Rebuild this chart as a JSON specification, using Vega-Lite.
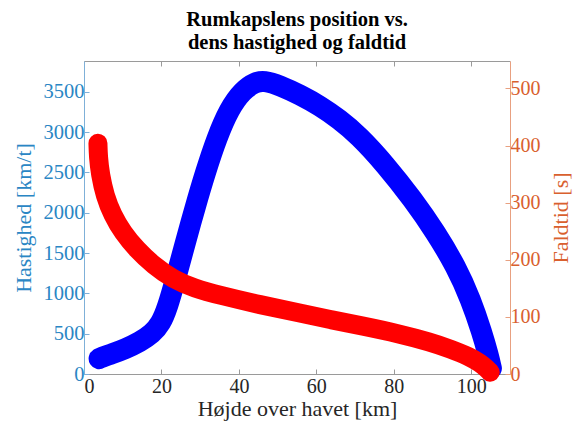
{
  "$schema": "https://vega.github.io/schema/vega-lite/v6.json",
  "width": 426,
  "height": 313,
  "autosize": {"type": "none"},
  "padding": {"left": 84, "top": 61, "right": 64, "bottom": 54},
  "background": "white",
  "config": {"view": {"stroke": null}, "font": "Liberation Serif"},
  "title": {
    "text": ["Rumkapslens position vs.", "dens hastighed og faldtid"],
    "font": "Liberation Serif",
    "fontSize": 20.5,
    "fontWeight": "bold",
    "color": "#000000",
    "anchor": "middle",
    "offset": 7,
    "lineHeight": 23
  },
  "datasets": {
    "hastighed": [
      {"hoejde": 3.9, "hastighed": 190},
      {"hoejde": 4.4, "hastighed": 205},
      {"hoejde": 7.2, "hastighed": 250},
      {"hoejde": 10.6, "hastighed": 310},
      {"hoejde": 14.5, "hastighed": 400},
      {"hoejde": 17.6, "hastighed": 500},
      {"hoejde": 19.8, "hastighed": 620},
      {"hoejde": 21.6, "hastighed": 830},
      {"hoejde": 23.6, "hastighed": 1170},
      {"hoejde": 26.0, "hastighed": 1600},
      {"hoejde": 28.7, "hastighed": 2070},
      {"hoejde": 31.4, "hastighed": 2510},
      {"hoejde": 34.3, "hastighed": 2930},
      {"hoejde": 37.5, "hastighed": 3290},
      {"hoejde": 41.0, "hastighed": 3520},
      {"hoejde": 44.2, "hastighed": 3620},
      {"hoejde": 46.5, "hastighed": 3640},
      {"hoejde": 50.6, "hastighed": 3580},
      {"hoejde": 55.8, "hastighed": 3462},
      {"hoejde": 61.0, "hastighed": 3325},
      {"hoejde": 65.9, "hastighed": 3160},
      {"hoejde": 70.8, "hastighed": 2965},
      {"hoejde": 77.8, "hastighed": 2600},
      {"hoejde": 85.0, "hastighed": 2160},
      {"hoejde": 90.7, "hastighed": 1765},
      {"hoejde": 96.1, "hastighed": 1330},
      {"hoejde": 99.9, "hastighed": 920},
      {"hoejde": 102.8, "hastighed": 509},
      {"hoejde": 104.4, "hastighed": 236},
      {"hoejde": 105.2, "hastighed": 70}
    ],
    "faldtid": [
      {"hoejde": 3.6, "faldtid": 404},
      {"hoejde": 3.7, "faldtid": 380},
      {"hoejde": 4.2, "faldtid": 350},
      {"hoejde": 5.4, "faldtid": 312},
      {"hoejde": 7.4, "faldtid": 278},
      {"hoejde": 10.0, "faldtid": 248},
      {"hoejde": 13.6, "faldtid": 218},
      {"hoejde": 18.0, "faldtid": 190},
      {"hoejde": 23.0, "faldtid": 166},
      {"hoejde": 28.5, "faldtid": 150},
      {"hoejde": 35.0, "faldtid": 138},
      {"hoejde": 45.5, "faldtid": 121},
      {"hoejde": 55.8, "faldtid": 107},
      {"hoejde": 63.6, "faldtid": 95},
      {"hoejde": 71.3, "faldtid": 85},
      {"hoejde": 81.7, "faldtid": 70},
      {"hoejde": 89.4, "faldtid": 56},
      {"hoejde": 94.6, "faldtid": 44},
      {"hoejde": 99.7, "faldtid": 30},
      {"hoejde": 102.3, "faldtid": 19},
      {"hoejde": 104.1, "faldtid": 9},
      {"hoejde": 104.9, "faldtid": 3}
    ]
  },
  "layer": [
    {
      "data": {"name": "hastighed"},
      "mark": {"type": "line", "color": "#0000FF", "strokeWidth": 21, "strokeCap": "round", "strokeJoin": "round", "interpolate": "basis", "clip": false},
      "encoding": {
        "x": {
          "field": "hoejde", "type": "quantitative",
          "scale": {"domain": [0, 110], "nice": false, "zero": false},
          "axis": {
            "orient": "bottom",
            "title": "Højde over havet [km]",
            "values": [0, 20, 40, 60, 80, 100],
            "format": "d",
            "grid": false,
            "domainColor": "#9a9a9a",
            "tickColor": "#9a9a9a",
            "tickSize": -5,
            "labelPadding": 7,
            "labelFont": "Liberation Serif",
            "labelFontSize": 20,
            "labelColor": "#262626",
            "titleFont": "Liberation Serif",
            "titleFontSize": 22,
            "titleFontWeight": "normal",
            "titleColor": "#262626",
            "titlePadding": 2
          }
        },
        "y": {
          "field": "hastighed", "type": "quantitative",
          "scale": {"domain": [0, 3883], "nice": false},
          "axis": {
            "orient": "left",
            "title": "Hastighed [km/t]",
            "values": [0, 500, 1000, 1500, 2000, 2500, 3000, 3500],
            "format": "d",
            "grid": false,
            "domainColor": "#7fb0d8",
            "tickColor": "#7fb0d8",
            "tickSize": -5,
            "labelPadding": 5,
            "labelFont": "Liberation Serif",
            "labelFontSize": 20.5,
            "labelColor": "#2a86c4",
            "titleFont": "Liberation Serif",
            "titleFontSize": 22,
            "titleFontWeight": "normal",
            "titleColor": "#2a86c4",
            "titlePadding": 8
          }
        }
      }
    },
    {
      "data": {"name": "faldtid"},
      "mark": {"type": "line", "color": "#FF0000", "strokeWidth": 19, "strokeCap": "round", "strokeJoin": "round", "interpolate": "basis", "clip": false},
      "encoding": {
        "x": {
          "field": "hoejde", "type": "quantitative",
          "scale": {"domain": [0, 110], "nice": false, "zero": false},
          "axis": {
            "orient": "top",
            "title": null,
            "labels": false,
            "values": [0, 20, 40, 60, 80, 100],
            "grid": false,
            "domainColor": "#9a9a9a",
            "tickColor": "#9a9a9a",
            "tickSize": -5
          }
        },
        "y": {
          "field": "faldtid", "type": "quantitative",
          "scale": {"domain": [0, 548], "nice": false},
          "axis": {
            "orient": "right",
            "title": "Faldtid [s]",
            "values": [0, 100, 200, 300, 400, 500],
            "format": "d",
            "grid": false,
            "domainColor": "#e8a080",
            "tickColor": "#e8a080",
            "tickSize": -5,
            "labelPadding": 5,
            "labelFont": "Liberation Serif",
            "labelFontSize": 20,
            "labelColor": "#d9602e",
            "titleFont": "Liberation Serif",
            "titleFontSize": 22,
            "titleFontWeight": "normal",
            "titleColor": "#d9602e",
            "titleAngle": 270,
            "titleBaseline": "top",
            "titlePadding": 10
          }
        }
      }
    }
  ],
  "resolve": {"scale": {"y": "independent"}, "axis": {"x": "independent"}}
}
